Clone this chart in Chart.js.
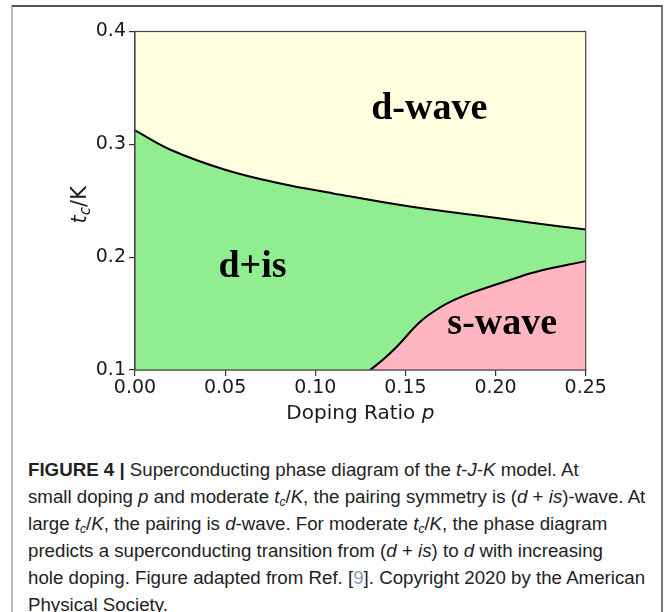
<!DOCTYPE html>
<html>
<head>
<meta charset="utf-8">
<script src="https://cdn.jsdelivr.net/npm/chart.js@4/dist/chart.umd.min.js"></script>
<style>
  html, body { margin: 0; padding: 0; background: #fff; }
  #page { position: relative; width: 664px; height: 612px; overflow: hidden; }
  #frame {
    position: absolute; left: 11px; top: 5px; width: 648px; height: 640px;
    border-top: 2px solid #555; border-left: 2px solid #bbb; border-right: 2px solid #777;
  }
  #chart-wrap { position: absolute; left: 0; top: 0; width: 664px; height: 440px; }
  #caption {
    position: absolute; left: 28px; top: 456px; width: 630px;
    font-family: "Liberation Sans", Arial, sans-serif;
    font-size: 18.7px; line-height: 27px; color: #222; white-space: nowrap;
  }
  #caption sub { font-size: 12px; line-height: 0; vertical-align: -3px; }
  #caption .ref { color: #8a9bb3; }
</style>
</head>
<body>
<div id="page">
  <div id="frame"></div>
  <div id="chart-wrap"><canvas id="phase-chart" width="664" height="440"></canvas></div>
  <div id="caption"><b>FIGURE 4 |</b> Superconducting phase diagram of the <i>t</i>-<i>J</i>-<i>K</i> model. At<br>small doping <i>p</i> and moderate <i>t<sub>c</sub></i>/<i>K</i>, the pairing symmetry is (<i>d</i> + <i>is</i>)-wave. At<br>large <i>t<sub>c</sub></i>/<i>K</i>, the pairing is <i>d</i>-wave. For moderate <i>t<sub>c</sub></i>/<i>K</i>, the phase diagram<br>predicts a superconducting transition from (<i>d</i> + <i>is</i>) to <i>d</i> with increasing<br>hole doping. Figure adapted from Ref. [<span class="ref">9</span>]. Copyright 2020 by the American<br>Physical Society.</div>
</div>
<script>
  // boundary between d-wave and d+is
  const upperDoping = [0, 0.02, 0.05, 0.08, 0.11, 0.15, 0.19, 0.22, 0.25];
  const upperTcK = [0.3124, 0.295, 0.2775, 0.2655, 0.2565, 0.2455, 0.237, 0.2305, 0.2245];

  // boundary between d+is and s-wave
  const lowerDoping = [0.1304, 0.1378, 0.1452, 0.1582, 0.1693, 0.178, 0.1877, 0.2099, 0.2247, 0.25];
  const lowerTcK = [0.1, 0.1095, 0.1206, 0.1428, 0.1555, 0.1628, 0.169, 0.1808, 0.1879, 0.1965];

  const xTicks = [0, 0.05, 0.1, 0.15, 0.2, 0.25];
  const yTicks = [0.1, 0.2, 0.3, 0.4];

  const phaseNames = ['d-wave', 'd+is', 's-wave'];
  const phaseLabelDoping = [0.1632, 0.0652, 0.2037];
  const phaseLabelTcK = [0.3221, 0.1823, 0.1316];

  function toPoints(xs, ys) {
    return xs.map((x, i) => ({ x, y: ys[i] }));
  }

  const tickFont = { family: 'DejaVu Sans', size: 19 };

  const extrasPlugin = {
    id: 'extras',
    afterDatasetsDraw(chart) {
      const { ctx, chartArea, scales } = chart;
      ctx.save();
      ctx.strokeStyle = '#444';
      ctx.lineWidth = 1.2;
      ctx.strokeRect(chartArea.left, chartArea.top, chartArea.width, chartArea.height);

      ctx.fillStyle = '#000';
      ctx.font = 'bold 38px "Liberation Serif"';
      ctx.textAlign = 'center';
      ctx.textBaseline = 'alphabetic';
      phaseNames.forEach((name, i) => {
        ctx.fillText(name, scales.x.getPixelForValue(phaseLabelDoping[i]),
          scales.y.getPixelForValue(phaseLabelTcK[i]));
      });
      ctx.restore();
    },
    afterDraw(chart) {
      const { ctx, chartArea } = chart;
      ctx.save();
      ctx.fillStyle = '#1a1a1a';
      ctx.textBaseline = 'alphabetic';

      // x title: Doping Ratio p
      const cx = (chartArea.left + chartArea.right) / 2;
      ctx.font = '20px "DejaVu Sans"';
      const a = 'Doping Ratio ';
      const wa = ctx.measureText(a).width;
      ctx.font = 'italic 20px "DejaVu Sans"';
      const wp = ctx.measureText('p').width;
      const x0 = cx - (wa + wp) / 2;
      ctx.font = '20px "DejaVu Sans"';
      ctx.textAlign = 'left';
      ctx.fillText(a, x0, 419);
      ctx.font = 'italic 20px "DejaVu Sans"';
      ctx.fillText('p', x0 + wa, 419);

      // y title: t_c/K
      const cy = (chartArea.top + chartArea.bottom) / 2 + 4;
      ctx.translate(86, cy);
      ctx.rotate(-Math.PI / 2);
      ctx.font = 'italic 21px "DejaVu Sans"';
      const wt = ctx.measureText('t').width;
      ctx.font = 'italic 15px "DejaVu Sans"';
      const wc = ctx.measureText('c').width;
      ctx.font = '21px "DejaVu Sans"';
      const wk = ctx.measureText('/K').width;
      let px = -(wt + wc + wk) / 2;
      ctx.font = 'italic 21px "DejaVu Sans"';
      ctx.fillText('t', px, 0);
      px += wt;
      ctx.font = 'italic 15px "DejaVu Sans"';
      ctx.fillText('c', px, 4);
      px += wc;
      ctx.font = '21px "DejaVu Sans"';
      ctx.fillText('/K', px, 0);
      ctx.restore();
    },
  };

  new Chart(document.getElementById('phase-chart'), {
    type: 'line',
    data: {
      datasets: [
        {
          label: 's-wave',
          data: toPoints(lowerDoping, lowerTcK),
          borderColor: '#000',
          borderWidth: 2,
          backgroundColor: '#ffb6c1',
          fill: 'start',
          order: 1,
        },
        {
          label: 'd-wave',
          data: toPoints(upperDoping, upperTcK),
          borderColor: '#000',
          borderWidth: 2,
          backgroundColor: '#ffffe0',
          fill: 'end',
          order: 2,
        },
        {
          label: 'd+is',
          data: toPoints(upperDoping, upperTcK),
          borderWidth: 0,
          borderColor: 'rgba(0,0,0,0)',
          backgroundColor: '#90ee90',
          fill: 'start',
          order: 3,
        },
      ],
    },
    options: {
      responsive: false,
      animation: false,
      events: [],
      elements: {
        point: { radius: 0 },
        line: { tension: 0.4 },
      },
      layout: { padding: { left: 0, top: 31.5, right: 78.3, bottom: 0 } },
      plugins: {
        legend: { display: false },
        tooltip: { enabled: false },
      },
      scales: {
        x: {
          type: 'linear',
          min: 0,
          max: 0.25,
          afterFit: (scale) => { scale.height = 70; },
          afterBuildTicks: (scale) => { scale.ticks = xTicks.map((v) => ({ value: v })); },
          ticks: {
            font: tickFont,
            color: '#1a1a1a',
            padding: 1,
            maxRotation: 0,
            callback: (v) => Number(v).toFixed(2),
          },
          grid: { drawOnChartArea: false, tickLength: 6, color: '#333', lineWidth: 1.2 },
          border: { color: '#444', width: 1.2 },
        },
        y: {
          type: 'linear',
          min: 0.1,
          max: 0.4,
          afterFit: (scale) => { scale.width = 135; },
          afterBuildTicks: (scale) => { scale.ticks = yTicks.map((v) => ({ value: v })); },
          ticks: {
            font: tickFont,
            color: '#1a1a1a',
            padding: 3,
            callback: (v) => Number(v).toFixed(1),
          },
          grid: { drawOnChartArea: false, tickLength: 6, color: '#333', lineWidth: 1.2 },
          border: { color: '#444', width: 1.2 },
        },
      },
    },
    plugins: [extrasPlugin],
  });
</script>
</body>
</html>
